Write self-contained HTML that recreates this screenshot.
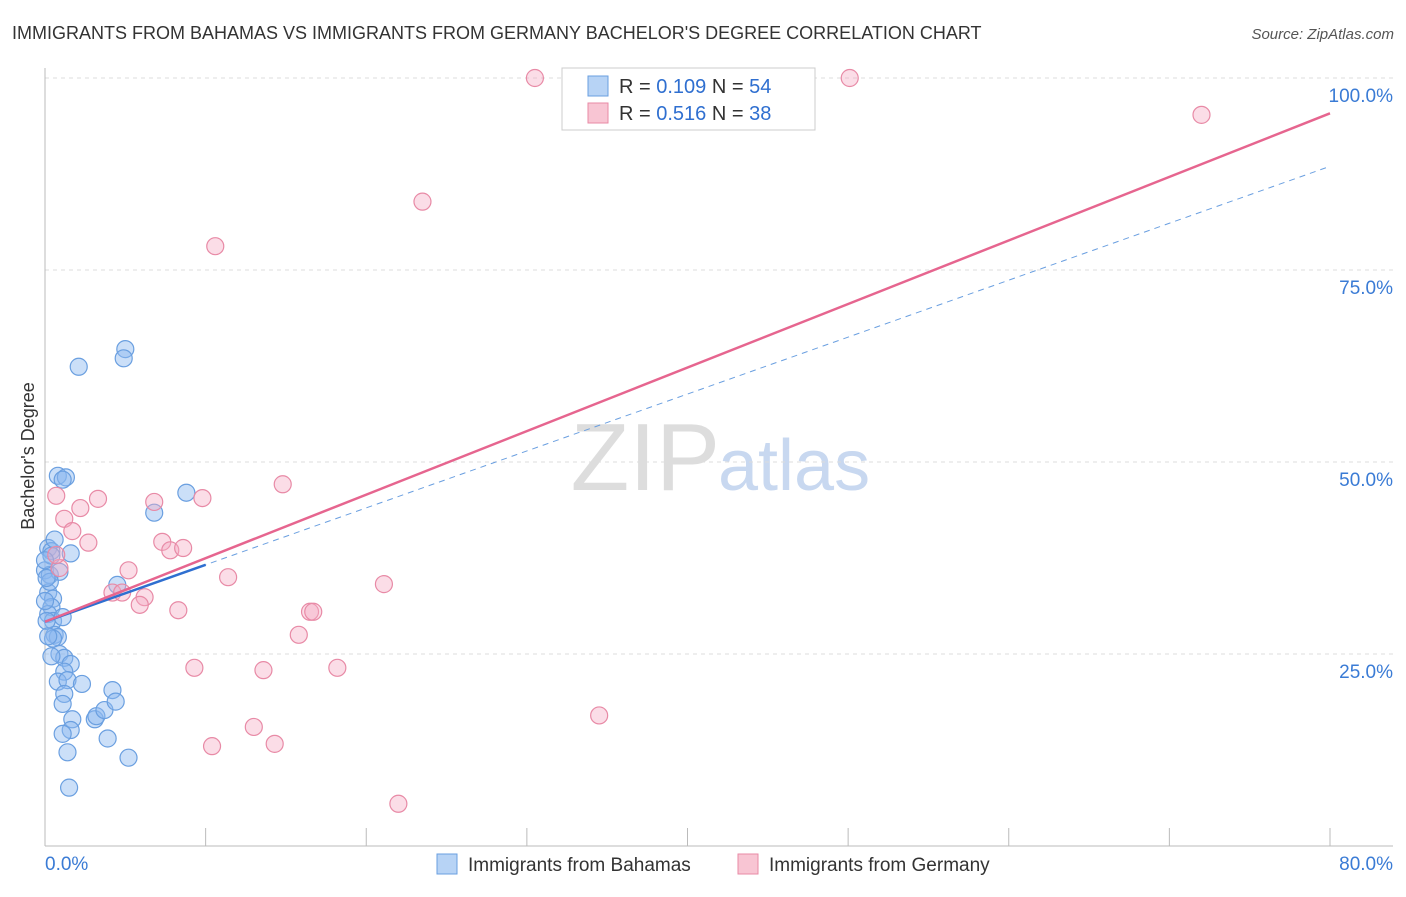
<!DOCTYPE html>
<html><head><meta charset="utf-8"><style>
body{margin:0;background:#fff;font-family:"Liberation Sans",sans-serif}
svg text{font-family:"Liberation Sans",sans-serif}
</style></head><body>
<svg id="c" width="1406" height="892">
<text x="12" y="39" font-size="18" fill="#333">IMMIGRANTS FROM BAHAMAS VS IMMIGRANTS FROM GERMANY BACHELOR'S DEGREE CORRELATION CHART</text>
<text x="1394" y="39" font-size="15" fill="#555" font-style="italic" text-anchor="end">Source: ZipAtlas.com</text>
<text x="720" y="490" font-size="96" fill="#ddd" font-family="Liberation Serif" text-anchor="end">ZIP</text>
<text x="718" y="490" font-size="72" fill="#c8d8f0">atlas</text>
<text transform="translate(34,456) rotate(-90)" font-size="18" fill="#333" text-anchor="middle">Bachelor's Degree</text>
<g id="grid"></g><g id="pts"></g><g id="lines"></g>
<g>
<rect x="562" y="68" width="253" height="62" fill="#fff" stroke="#ccc"/>
<rect x="588" y="76" width="20" height="20" fill="#b7d3f5" stroke="#6a9fe0"/>
<rect x="588" y="103" width="20" height="20" fill="#f8c5d3" stroke="#e88aa6"/>
<text x="619" y="93" font-size="20" fill="#333">R = <tspan fill="#2f6fd0">0.109</tspan>   N = <tspan fill="#2f6fd0">54</tspan></text>
<text x="619" y="120" font-size="20" fill="#333">R = <tspan fill="#2f6fd0">0.516</tspan>   N = <tspan fill="#2f6fd0">38</tspan></text>
</g>
<g>
<rect x="437" y="854" width="20" height="20" fill="#b7d3f5" stroke="#6a9fe0"/>
<text x="468" y="871" font-size="19" fill="#333">Immigrants from Bahamas</text>
<rect x="738" y="854" width="20" height="20" fill="#f8c5d3" stroke="#e88aa6"/>
<text x="769" y="871" font-size="19" fill="#333">Immigrants from Germany</text>
</g>
</svg>
<script>
const xTicks=[0,10,20,30,40,50,60,70,80];
const yTicks=[25,50,75,100];
const yTickLabels=["25.0%","50.0%","75.0%","100.0%"];
const bahamasX=[0.2,0.4,0,0.3,0.6,0.4,0.9,0.8,1.3,1.1,1.6,0.2,0.5,0.4,0.2,0.5,1.1,0.6,0.8,0.5,0.9,1.2,1.6,1.2,0.8,1.4,2.3,1.2,1.1,1.7,1.6,1.1,1.4,1.5,3.1,3.2,3.7,4.2,4.4,3.9,5.2,2.1,5,4.9,8.8,6.8,4.5,0,0.1,0.3,0,0.2,0.4,0.1];
const bahamasY=[38.8,38.4,35.9,35.3,39.9,37.8,35.7,48.2,48,47.7,38.1,33,32.2,31.1,30.2,29.3,29.8,27.5,27.2,27,25,24.5,23.7,22.7,21.4,21.6,21.1,19.8,18.5,16.5,15.1,14.6,12.2,7.6,16.5,16.9,17.7,20.3,18.8,14,11.5,62.4,64.7,63.5,46,43.4,34,31.9,29.3,34.4,37.2,27.3,24.7,34.9];
const germanyX=[30.5,50.1,72,23.5,10.6,0.7,3.3,6.8,9.8,14.8,2.2,1.2,1.7,2.7,7.3,7.8,8.6,5.2,11.4,21.1,4.2,4.8,6.2,5.9,8.3,16.5,16.7,15.8,0.9,0.7,9.3,13.6,18.2,13,10.4,14.3,34.5,22];
const germanyY=[100,100,95.2,83.9,78.1,45.6,45.2,44.8,45.3,47.1,44,42.6,41.0,39.5,39.6,38.5,38.8,35.9,35,34.1,33,33,32.4,31.4,30.7,30.5,30.5,27.5,36.2,37.9,23.2,22.9,23.2,15.5,13,13.3,17,5.5];
const trendGermany=[29.2,95.4];
const trendBahamas=[29.2,88.5];
const bahamasSolidEnd=10;
const X=v=>45+v/80*1285, Y=v=>846-v*7.68;
const NS="http://www.w3.org/2000/svg";
function mk(t,a,p){const e=document.createElementNS(NS,t);for(const k in a)e.setAttribute(k,a[k]);p.appendChild(e);return e;}
const g=document.getElementById('grid');
yTicks.forEach((v,i)=>{
 const l=mk('line',{x1:45,x2:1393,y1:Y(v),y2:Y(v),stroke:'#ddd','stroke-dasharray':'4,4'},g);
 
 
 const t=mk('text',{x:1393,y:Y(v)+24,'font-size':19,fill:'#3a7bd5','text-anchor':'end'},g);
 t.textContent=yTickLabels[i];
 
 
});
const ax=mk('line',{x1:45,x2:1393,y1:846,y2:846,stroke:'#bbb'},g);


const ay=mk('line',{x1:45,x2:45,y1:68,y2:846,stroke:'#bbb'},g);


xTicks.forEach(v=>{
 const l=mk('line',{x1:X(v),x2:X(v),y1:828,y2:846,stroke:'#bbb'},g);
 
 
});
const t0=mk('text',{x:45,y:870,'font-size':19,fill:'#3a7bd5'},g);t0.textContent="0.0%";


const t1=mk('text',{x:1393,y:870,'font-size':19,fill:'#3a7bd5','text-anchor':'end'},g);t1.textContent="80.0%";


const p=document.getElementById('pts');
bahamasX.forEach((v,i)=>{
 const c=mk('circle',{cx:X(v),cy:Y(bahamasY[i]),r:8.5,fill:'rgba(140,185,240,0.45)',stroke:'#6a9fe0','stroke-width':1.2},p);
 
 
});
germanyX.forEach((v,i)=>{
 const c=mk('circle',{cx:X(v),cy:Y(germanyY[i]),r:8.5,fill:'rgba(245,170,195,0.4)',stroke:'#e88aa6','stroke-width':1.2},p);
 
 
});
const L=document.getElementById('lines');
const bAt=x=>trendBahamas[0]+(trendBahamas[1]-trendBahamas[0])*x/80;
const bd=mk('line',{x1:X(0),y1:Y(bAt(0)),x2:X(80),y2:Y(bAt(80)),stroke:'#6a9fe0','stroke-width':1,'stroke-dasharray':'6,5'},L);


const bs=mk('line',{x1:X(0),y1:Y(bAt(0)),x2:X(bahamasSolidEnd),y2:Y(bAt(bahamasSolidEnd)),stroke:'#2f6fd0','stroke-width':2.5},L);


const gl=mk('line',{x1:X(0),y1:Y(trendGermany[0]),x2:X(80),y2:Y(trendGermany[1]),stroke:'#e6658f','stroke-width':2.5},L);


</script>
</body></html>
